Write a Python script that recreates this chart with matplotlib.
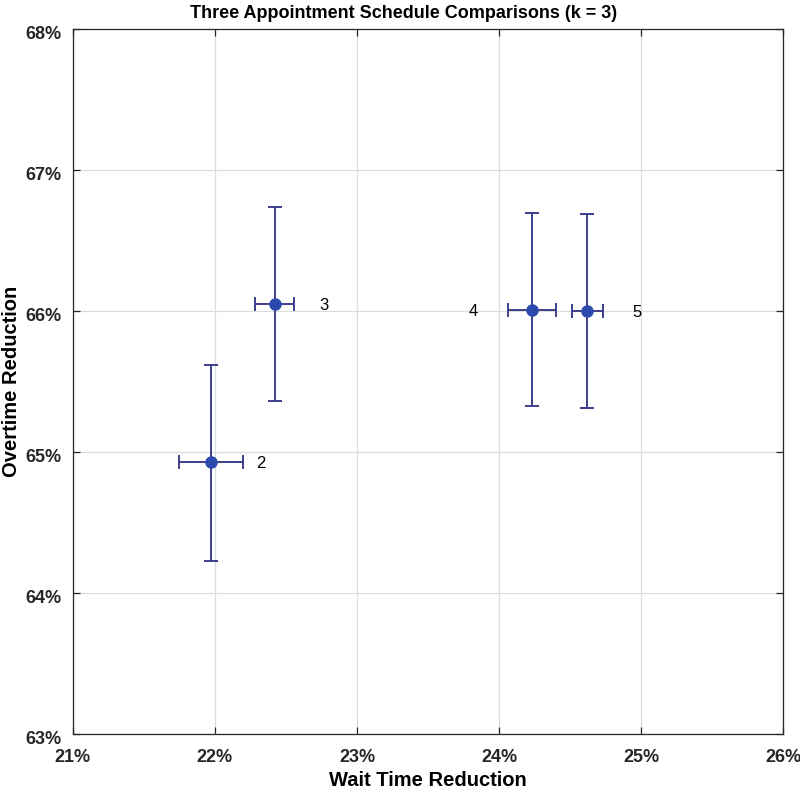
import numpy as np
import matplotlib
matplotlib.use('Agg')
import matplotlib.pyplot as plt
from matplotlib import ticker as mtick
from matplotlib import transforms as mtrans

# schedule comparison results (percent)
labels = ['2', '3', '4', '5']
wait_red = [21.97, 22.42, 24.235, 24.62]
wait_lo = [21.75, 22.28, 24.06, 24.51]
wait_hi = [22.20, 22.56, 24.40, 24.73]
over_red = [64.93, 66.05, 66.01, 66.00]
over_lo = [64.23, 65.36, 65.33, 65.31]
over_hi = [65.62, 66.74, 66.70, 66.69]
label_side = ['right', 'right', 'left', 'right']

plt.rcParams['font.family'] = ['Liberation Sans', 'DejaVu Sans']

line_col = '#3d3f8e'
face_col = '#2c4aae'

fig = plt.figure(figsize=(8.0, 7.91), dpi=100)
ax = fig.add_axes([0.091, 0.072, 0.888, 0.891])

x = np.array(wait_red)
y = np.array(over_red)
xerr = np.vstack([x - np.array(wait_lo), np.array(wait_hi) - x])
yerr = np.vstack([y - np.array(over_lo), np.array(over_hi) - y])

ax.errorbar(x, y, xerr=xerr, yerr=yerr, fmt='o', color=line_col,
            mfc=face_col, mec=face_col, ms=8, elinewidth=1.4,
            capsize=5, capthick=1.4, zorder=3)

for lab, xi, yi, side in zip(labels, x, y, label_side):
    dx = 0.35 if side == 'right' else -0.42
    ax.text(xi + dx, yi - 0.01, lab, fontsize=12, ha='center', va='center')

ax.set_xlim(21, 26)
ax.set_ylim(63, 68)
ax.xaxis.set_major_locator(mtick.MultipleLocator(1))
ax.yaxis.set_major_locator(mtick.MultipleLocator(1))
ax.xaxis.set_major_formatter(mtick.PercentFormatter(decimals=0))
ax.yaxis.set_major_formatter(mtick.PercentFormatter(decimals=0))

ax.grid(True, color='#dcdcdc', linewidth=0.9)
ax.set_axisbelow(True)
ax.tick_params(direction='in', length=5, width=0.9, top=True, right=True,
               labelsize=13, colors='#262626')
ax.tick_params(axis='x', pad=11)
ax.tick_params(axis='y', pad=8)
shift_down = mtrans.ScaledTranslation(0, -3 / 100, fig.dpi_scale_trans)
for t in ax.get_xticklabels() + ax.get_yticklabels():
    t.set_fontweight('bold')
for t in ax.get_yticklabels():
    t.set_transform(t.get_transform() + shift_down)
for sp in ax.spines.values():
    sp.set_color('#262626')
    sp.set_linewidth(0.9)

ax.set_xlabel('Wait Time Reduction', fontsize=14.5, fontweight='bold')
ax.xaxis.label.set_va('center')
ax.xaxis.set_label_coords(0.5, -0.0665)
ax.set_ylabel('Overtime Reduction', fontsize=14.5, fontweight='bold')
ax.yaxis.label.set_ha('center')
ax.yaxis.label.set_va('center')
ax.yaxis.set_label_coords(-0.086, 0.5)
fig.text(0.505, 0.983, 'Three Appointment Schedule Comparisons (k = 3)',
         fontsize=13, fontweight='bold', ha='center', va='center')

fig.savefig('out.png', dpi=100, facecolor='white')
